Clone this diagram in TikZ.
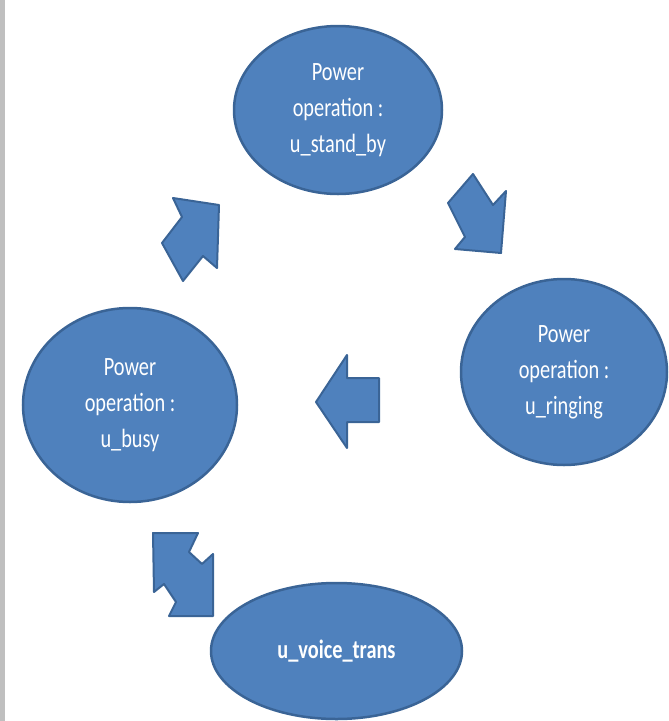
\documentclass[tikz,border=0pt]{standalone}
\usepackage{fontspec}
\newfontfamily\lblfont[FakeStretch=0.77]{Carlito}
\usetikzlibrary{shapes.geometric}
\definecolor{fillblue}{HTML}{4F81BD}
\definecolor{edgeblue}{HTML}{3A6496}
\definecolor{bargrey}{HTML}{BFBFBF}
\begin{document}
\begin{tikzpicture}[x=1pt,y=-1pt,
  stateel/.style={ellipse, draw=edgeblue, fill=fillblue, line width=2.5pt, inner sep=0pt,
    text=white, align=center, font=\lblfont\fontsize{26.4}{36}\selectfont},
  blockarrow/.style={draw=edgeblue, fill=fillblue, line width=2pt, line join=round}]
\useasboundingbox (0,0) rectangle (669,721);
\fill[bargrey] (0,0) rectangle (5,721);
% states
\node[stateel, minimum width=208pt, minimum height=168pt] (standby) at (338,110) {Power\\operation :\\u\_stand\_by};
\node[stateel, minimum width=206pt, minimum height=186pt] (ringing) at (564,372) {Power\\operation :\\u\_ringing};
\node[stateel, minimum width=214pt, minimum height=194pt] (busy) at (130,405) {Power\\operation :\\u\_busy};
\node[stateel, minimum width=251pt, minimum height=136pt, font=\lblfont\bfseries\fontsize{26.4}{36}\selectfont] (voice) at (336.5,651) {u\_voice\_trans};
% block arrows
\draw[blockarrow] (173,198) -- (219,205) -- (217,268) -- (203,256) -- (183,281) -- (162,243) -- (182,217) -- cycle;
\draw[blockarrow] (473,174) -- (448,203) -- (465,237) -- (455,249) -- (501,253) -- (506,191) -- (493,205) -- cycle;
\draw[blockarrow] (316,402) -- (347,355) -- (347,378) -- (379,378) -- (379,422) -- (347,422) -- (347,448) -- cycle;
\draw[blockarrow] (153,533) -- (198,533) -- (189,552) -- (202,564) -- (213,554) -- (213,616) -- (169,616) -- (176,602) -- (164,584) -- (154,592) -- cycle;
\end{tikzpicture}
\end{document}
